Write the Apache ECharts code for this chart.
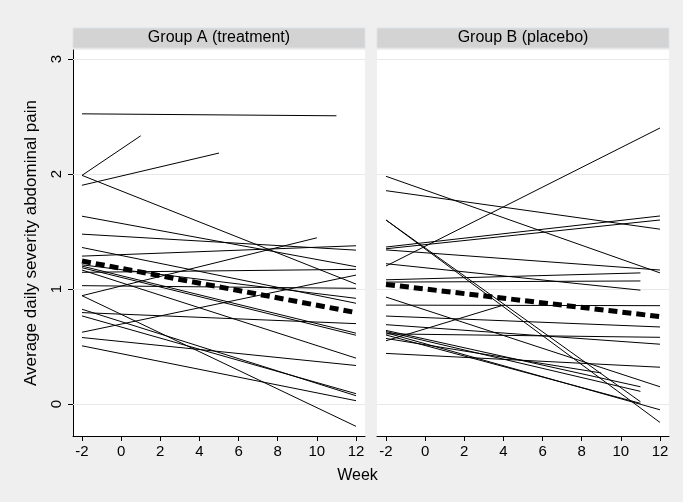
<!DOCTYPE html>
<html>
<head>
<meta charset="utf-8">
<script src="https://cdn.jsdelivr.net/npm/echarts@6/dist/echarts.min.js"></script>
<style>html,body{margin:0;padding:0;background:#efefef;}#c{width:683px;height:502px;}</style>
</head>
<body>
<div id="c"></div>
<script>
// ---- data ----
const panelTitles = ['Group A (treatment)', 'Group B (placebo)'];
const xTicks = [-2, 0, 2, 4, 6, 8, 10, 12];
const yTicks = [0, 1, 2, 3];
// each subject: [startWeek, startValue, endWeek, endValue]
const groupA = [
  [-2, 2.523, 11, 2.506],
  [-2, 1.988, 1, 2.332],
  [-2, 1.902, 5, 2.182],
  [-2, 1.988, 12, 1.043],
  [-2, 1.633, 12, 1.194],
  [-2, 1.477, 12, 1.338],
  [-2, 1.286, 12, 1.376],
  [-2, 1.361, 12, 0.876],
  [-2, 1.21, 12, 0.919],
  [-2, 1.199, 12, 0.616],
  [-2, 1.185, 12, 0.598],
  [-2, 1.165, 12, 0.399],
  [-2, 1.145, 12, 1.171],
  [-2, 1.029, 12, 1.006],
  [-2, 0.942, 10, 1.445],
  [-2, 0.942, 12, -0.194],
  [-2, 0.824, 12, 0.072],
  [-2, 0.795, 12, 0.699],
  [-2, 0.766, 12, 0.090],
  [-2, 0.624, 12, 1.121],
  [-2, 0.578, 12, 0.335],
  [-2, 0.506, 12, 0.029]
];
const groupB = [
  [-2, 1.98, 12, 1.14],
  [-2, 1.855, 12, 1.52],
  [-2, 1.20, 12, 2.40],
  [-2, 1.60, 12, -0.16],
  [-2, 1.60, 11, 0.02],
  [-2, 1.365, 12, 1.635],
  [-2, 1.35, 12, 1.60],
  [-2, 1.34, 12, 1.165],
  [-2, 1.08, 11, 1.14],
  [-2, 1.06, 11, 1.07],
  [-2, 1.22, 11, 0.99],
  [-2, 0.93, 12, 0.15],
  [-2, 0.86, 12, 0.855],
  [-2, 0.55, 4, 0.86],
  [-2, 0.765, 12, 0.67],
  [-2, 0.69, 12, 0.52],
  [-2, 0.61, 12, 0.58],
  [-2, 0.44, 12, 0.32],
  [-2, 0.64, 11, 0.15],
  [-2, 0.63, 11, 0.11],
  [-2, 0.62, 12, -0.05],
  [-2, 0.60, 11, 0.006],
  [-2, 0.57, 9, 0.27]
];
const meanA = [[-2, 1.243], [12, 0.795]];
const meanB = [[-2, 1.04], [12, 0.76]];

// ---- chart ----
const chart = echarts.init(document.getElementById('c'), null, {renderer: 'canvas'});
const FONT = 'Liberation Sans, Arial, Helvetica, sans-serif';
const grids = [
  {left: 73, top: 50, width: 292, height: 386},
  {left: 377, top: 50, width: 292, height: 386}
];
function xAxis(i) {
  return {
    gridIndex: i, type: 'value', min: -2.46, max: 12.46,
    axisLine: {show: true, onZero: false, lineStyle: {color: '#000', width: 1}},
    axisTick: {show: true, customValues: xTicks, length: 5, lineStyle: {color: '#000'}},
    axisLabel: {customValues: xTicks, color: '#000', fontFamily: FONT, fontSize: 15, margin: 8},
    splitLine: {show: false}
  };
}
function yAxis(i) {
  return {
    gridIndex: i, type: 'value', min: -0.278, max: 3.078,
    name: i === 0 ? 'Average daily severity abdominal pain' : '',
    nameLocation: 'middle', nameGap: 33, nameRotate: 90,
    nameTextStyle: {color: '#000', fontFamily: FONT, fontSize: 17},
    axisLine: {show: i === 0, onZero: false, lineStyle: {color: '#000', width: 1}},
    axisTick: {show: i === 0, customValues: yTicks, length: 5, lineStyle: {color: '#000'}},
    axisLabel: {show: i === 0, customValues: yTicks, rotate: 90, color: '#000', fontFamily: FONT, fontSize: 15, margin: 9},
    splitLine: {show: false}
  };
}
function subjectSeries(data, i) {
  return data.map(d => ({
    type: 'line', xAxisIndex: i, yAxisIndex: i, symbol: 'none', silent: true, z: 3,
    lineStyle: {color: '#000', width: 1},
    data: [[d[0], d[1]], [d[2], d[3]]]
  }));
}
function meanSeries(data, i) {
  return {
    type: 'line', xAxisIndex: i, yAxisIndex: i, data: data, symbol: 'none', silent: true, z: 4,
    lineStyle: {color: '#000', width: 5, type: [9, 5]}
  };
}
function gridLineSeries(i) {
  return {
    type: 'line', xAxisIndex: i, yAxisIndex: i, data: [], silent: true, z: 1,
    markLine: {
      silent: true, symbol: 'none', label: {show: false}, z: 1,
      lineStyle: {color: '#e8e8e8', width: 1, type: 'solid'},
      data: yTicks.map(v => ({yAxis: v}))
    }
  };
}
const graphic = [];
grids.forEach((g, i) => {
  graphic.push({type: 'rect', shape: {x: g.left, y: 28, width: g.width, height: 20},
    style: {fill: '#d3d3d3', stroke: '#dde3e8', lineWidth: 1}, z: 0});
  graphic.push({type: 'text', x: g.left + g.width / 2, y: 38,
    style: {text: panelTitles[i], fill: '#000', font: '16px ' + FONT, textAlign: 'center', textVerticalAlign: 'middle'}, z: 1});
});
graphic.push({type: 'text', x: 357.5, y: 476,
  style: {text: 'Week', fill: '#000', font: '16px ' + FONT, textAlign: 'center', textVerticalAlign: 'middle'}});

chart.setOption({
  backgroundColor: '#efefef',
  animation: false,
  grid: grids.map(g => Object.assign({backgroundColor: '#fff', show: true, borderWidth: 0}, g)),
  xAxis: [xAxis(0), xAxis(1)],
  yAxis: [yAxis(0), yAxis(1)],
  graphic: graphic,
  series: [
    gridLineSeries(0), gridLineSeries(1),
    meanSeries(meanA, 0), meanSeries(meanB, 1)
  ].concat(subjectSeries(groupA, 0), subjectSeries(groupB, 1))
});
</script>
</body>
</html>
